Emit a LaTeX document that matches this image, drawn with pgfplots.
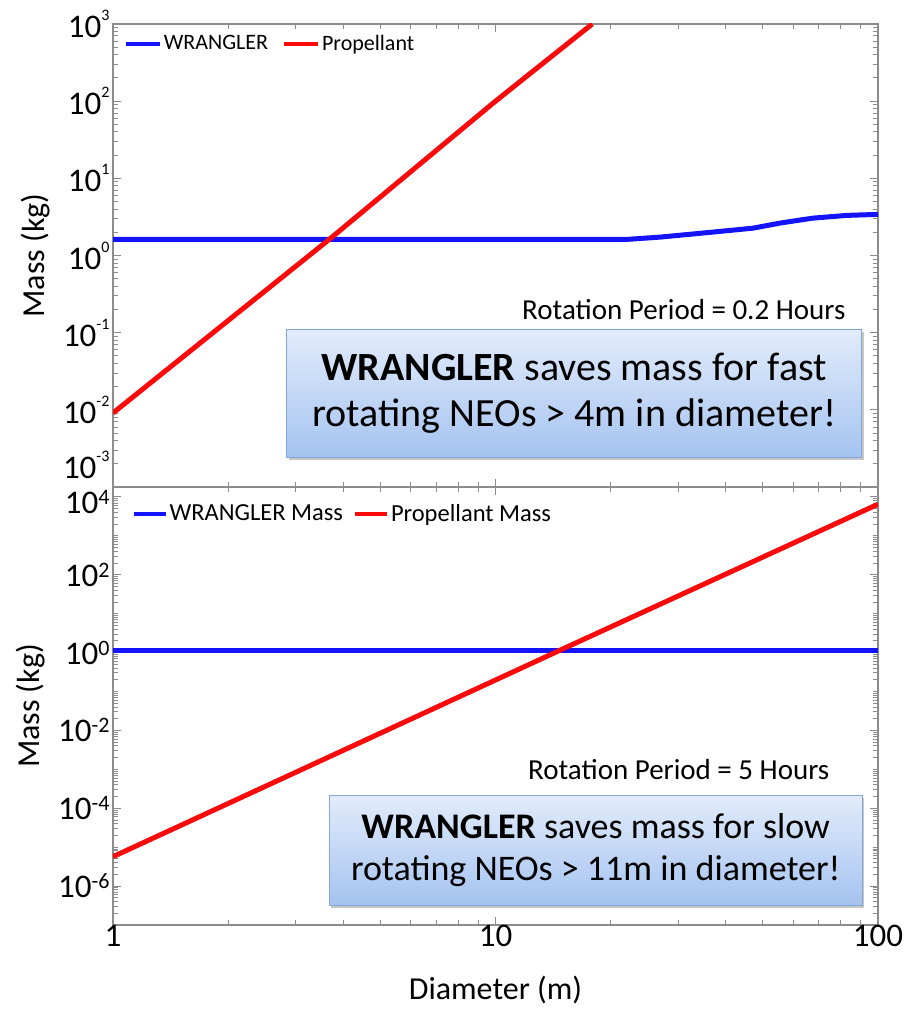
\documentclass[border=0pt]{standalone}
\usepackage{fontspec}
\setmainfont{Carlito}
\usepackage{pgfplots}
\pgfplotsset{compat=1.18}

\definecolor{wblue}{RGB}{20,20,250}
\definecolor{pred}{RGB}{250,10,10}
\definecolor{framegray}{RGB}{140,140,140}
\definecolor{boxtop}{RGB}{226,236,251}
\definecolor{boxbot}{RGB}{165,195,240}
\definecolor{boxedge}{RGB}{130,165,218}

% tick labels: 10 with a small raised exponent
\newcommand{\tp}[1]{10\raisebox{17pt}{\fontsize{16}{16}\selectfont #1}}
\newcommand{\bp}[1]{10\raisebox{9pt}{\fontsize{22}{22}\selectfont #1}}

\tikzset{
  infobox/.style={draw=boxedge, line width=0.8pt, top color=boxtop, bottom color=boxbot,
    align=center, inner sep=0pt},
  boxshadow/.style={fill=black, opacity=0.22, inner sep=0pt},
}

\begin{document}
\begin{tikzpicture}
\begin{axis}[
  name=top,
  xmode=log, ymode=log,
  scale only axis,
  width=765pt, height=463pt,
  xmin=1, xmax=100,
  ymin=1e-3, ymax=1e3,
  axis line style={framegray, line width=1.2pt},
  tick style={framegray, line width=0.9pt},
  major tick length=8pt, minor tick length=5pt,
  tick align=inside,
  xtick={1,10,100},
  xticklabels={,,},
  ytick={1e-2,1e-1,1,1e1,1e2,1e3},
  yticklabels={\tp{-2},\tp{-1},\tp{0},\tp{1},\tp{2},\tp{3}},
  extra y ticks={1e-3},
  extra y tick labels={\tp{-3}},
  extra y tick style={yticklabel style={yshift=22pt}},
  minor ytick={2e-3,3e-3,4e-3,5e-3,6e-3,7e-3,8e-3,9e-3,
    2e-2,3e-2,4e-2,5e-2,6e-2,7e-2,8e-2,9e-2,
    0.2,0.3,0.4,0.5,0.6,0.7,0.8,0.9,
    2,3,4,5,6,7,8,9,
    20,30,40,50,60,70,80,90,
    200,300,400,500,600,700,800,900},
  ticklabel style={font=\fontsize{33}{33}\selectfont},
  label style={font=\fontsize{32}{32}\selectfont},
  ylabel={Mass (kg)},
  ylabel shift=6pt,
  legend cell align=left,
  legend columns=2,
  legend style={draw=none, fill=none, font=\fontsize{22}{22}\selectfont,
    at={(0.01,0.985)}, anchor=north west,
    /tikz/every even column/.append style={column sep=12pt}},
  legend image code/.code={\draw[#1, line width=4pt] (0pt,0pt) -- (34pt,0pt);},
]
\addplot[wblue, line width=5pt] coordinates {
  (1,1.62) (10,1.62) (22.2,1.62) (26.9,1.73) (37.0,2.01) (47.1,2.26)
  (55.4,2.63) (67.6,3.05) (83.0,3.31) (100,3.41)
};
\addlegendentry{WRANGLER}
\addplot[pred, line width=5pt] coordinates {
  (1,0.0091) (3.7,1.66) (10,100) (17.9,1000)
};
\addlegendentry{Propellant}
\node[anchor=east, font=\fontsize{29}{29}\selectfont]
  at (rel axis cs:0.962,0.383) {Rotation Period = 0.2 Hours};
\node[boxshadow, minimum width=575pt, minimum height=128pt, xshift=2pt, yshift=-3pt]
  at (rel axis cs:0.603,0.202) {};
\node[infobox, minimum width=575pt, minimum height=128pt, font=\fontsize{40}{46}\selectfont]
  at (rel axis cs:0.603,0.202) {\textbf{WRANGLER} saves mass for fast\\rotating NEOs > 4m in diameter!};
\end{axis}

\begin{axis}[
  name=bot,
  at={(top.south west)}, anchor=north west,
  xmode=log, ymode=log,
  scale only axis,
  width=765pt, height=438pt,
  xmin=1, xmax=100,
  ymin=1e-7, ymax=1.8e4,
  axis line style={framegray, line width=1.2pt},
  tick style={framegray, line width=0.9pt},
  major tick length=8pt, minor tick length=5pt,
  tick align=inside,
  xtick={1,10,100},
  xticklabels={1,10,100},
  xticklabel style={yshift=3pt},
  ytick={1e-6,1e-4,1e-2,1,1e2},
  yticklabels={\bp{-6},\bp{-4},\bp{-2},\bp{0},\bp{2}},
  extra y ticks={1e4},
  extra y tick labels={\bp{4}},
  extra y tick style={yticklabel style={yshift=-5pt}},
  minor ytick={2e-7,3e-7,4e-7,5e-7,6e-7,7e-7,8e-7,9e-7,
    2e-6,3e-6,4e-6,5e-6,6e-6,7e-6,8e-6,9e-6,
    1e-5,2e-5,3e-5,4e-5,5e-5,6e-5,7e-5,8e-5,9e-5,
    2e-4,3e-4,4e-4,5e-4,6e-4,7e-4,8e-4,9e-4,
    1e-3,2e-3,3e-3,4e-3,5e-3,6e-3,7e-3,8e-3,9e-3,
    2e-2,3e-2,4e-2,5e-2,6e-2,7e-2,8e-2,9e-2,
    0.1,0.2,0.3,0.4,0.5,0.6,0.7,0.8,0.9,
    2,3,4,5,6,7,8,9,
    10,20,30,40,50,60,70,80,90,
    200,300,400,500,600,700,800,900,
    1000,2000,3000,4000,5000,6000,7000,8000,9000},
  ticklabel style={font=\fontsize{33}{33}\selectfont},
  label style={font=\fontsize{32}{32}\selectfont},
  xlabel={Diameter (m)},
  xlabel shift=22pt,
  ylabel={Mass (kg)},
  ylabel shift=6pt,
  legend cell align=left,
  legend columns=2,
  legend style={draw=none, fill=none, font=\fontsize{24.5}{24.5}\selectfont,
    at={(0.02,0.97)}, anchor=north west,
    /tikz/every even column/.append style={column sep=8pt}},
  legend image code/.code={\draw[#1, line width=4pt] (0pt,0pt) -- (32pt,0pt);},
]
\addplot[wblue, line width=5pt] coordinates {
  (1,1.1) (10,1.1) (100,1.1)
};
\addlegendentry{WRANGLER Mass}
\addplot[pred, line width=5pt] coordinates {
  (1,5.7e-6) (14.6,1.1) (100,6500)
};
\addlegendentry{Propellant Mass}
\node[anchor=east, font=\fontsize{29}{29}\selectfont]
  at (rel axis cs:0.941,0.354) {Rotation Period = 5 Hours};
\node[boxshadow, minimum width=533pt, minimum height=110pt, xshift=2pt, yshift=-3pt]
  at (rel axis cs:0.631,0.171) {};
\node[infobox, minimum width=533pt, minimum height=110pt, font=\fontsize{36}{42}\selectfont]
  at (rel axis cs:0.631,0.171) {\textbf{WRANGLER} saves mass for slow\\rotating NEOs > 11m in diameter!};
\end{axis}
% page margins as in the reference
\path (top.north west) ++(-113pt,24pt);
\path (bot.south east) ++(29pt,-90pt);
\end{tikzpicture}
\end{document}
